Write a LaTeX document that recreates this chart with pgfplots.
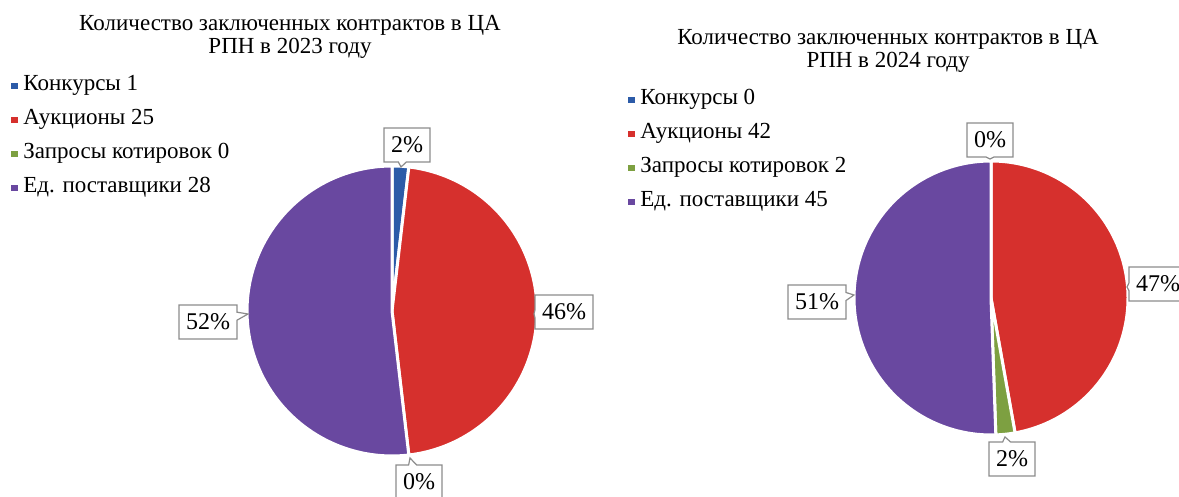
\documentclass[border=0pt]{standalone}
\usepackage{pgfplots}
\pgfplotsset{compat=1.18}
\usepackage{fontspec}
\setmainfont{Liberation Serif}
\usetikzlibrary{shapes.callouts}

\definecolor{cK}{RGB}{44,91,168}
\definecolor{cA}{RGB}{214,48,45}
\definecolor{cZ}{RGB}{125,160,65}
\definecolor{cE}{RGB}{105,72,160}

% data: 2023
\def\LK{1}\def\LA{25}\def\LZ{0}\def\LE{28}
% data: 2024
\def\RK{0}\def\RA{42}\def\RZ{2}\def\RE{45}

\pgfmathsetmacro\LT{\LK+\LA+\LZ+\LE}
\pgfmathsetmacro\LaK{90-360*\LK/\LT}
\pgfmathsetmacro\LaA{90-360*(\LK+\LA)/\LT}
\pgfmathsetmacro\LaZ{90-360*(\LK+\LA+\LZ)/\LT}
\pgfmathsetmacro\RT{\RK+\RA+\RZ+\RE}
\pgfmathsetmacro\RaK{90-360*\RK/\RT}
\pgfmathsetmacro\RaA{90-360*(\RK+\RA)/\RT}
\pgfmathsetmacro\RaZ{90-360*(\RK+\RA+\RZ)/\RT}

% slice: cx, cy, r, from angle (low), to angle (high), colour
\newcommand\slice[6]{%
  \pgfmathparse{abs(#5-(#4))>0.01 ? 1 : 0}%
  \ifdim\pgfmathresult pt>0.5pt
    \addplot[forget plot, fill=#6, draw=white, line width=1.5pt, line join=round,
      domain=#4:#5, samples=90, variable=\t]
      ({#1+#3*cos(\t)},{#2+#3*sin(\t)}) -- (axis cs:#1,#2) -- cycle;
  \fi
}

\tikzset{
  lab/.style={rectangle callout, draw=black!45, line width=0.6pt, fill=white,
    font=\fontsize{12}{12}\selectfont, inner xsep=3.5pt, inner ysep=3pt,
    minimum height=17pt, callout pointer width=4pt},
}
\pgfplotsset{
  piebase/.style={
    xmin=0, xmax=1179, ymin=0, ymax=497,
    width=589.5pt, height=248.5pt, scale only axis,
    hide axis, clip=false, at={(0pt,0pt)}, anchor=origin,
    legend image code/.code={\fill[##1,draw=none] (0pt,-2.2pt) rectangle (3.2pt,1.0pt);
      \path[draw=none,fill=none] (5pt,0pt) circle (0pt);},
    legend cell align=left,
    legend style={draw=none, fill=none, inner sep=0pt,
      font=\fontsize{11.5}{13}\selectfont, row sep=4.5pt,
      nodes={text height=8pt, text depth=2.5pt, inner sep=1pt}},
  },
}

\begin{document}
\begin{tikzpicture}
\useasboundingbox (0,0) rectangle (589.5pt,248.5pt);
% ---------- 2023 ----------
\begin{axis}[piebase, legend style={at={(axis cs:11,425)}, anchor=north west}]
  \slice{392}{186}{145}{\LaK}{90}{cK}
  \slice{392}{186}{145}{\LaA}{\LaK}{cA}
  \slice{392}{186}{145}{\LaZ}{\LaA}{cZ}
  \slice{392}{186}{145}{-270}{\LaZ}{cE}
  \addlegendimage{cK}\addlegendentry{Конкурсы 1}
  \addlegendimage{cA}\addlegendentry{Аукционы 25}
  \addlegendimage{cZ}\addlegendentry{Запросы котировок 0}
  \addlegendimage{cE}\addlegendentry{Ед. поставщики 28}
  \node[align=center, font=\fontsize{11.5}{11.5}\selectfont] at (axis cs:290,460)
    {Количество заключенных контрактов в ЦА\\РПН в 2023 году};
  \node[lab, callout absolute pointer={(axis cs:401,330)}] at (axis cs:407,352) {2\%};
  \node[lab, callout absolute pointer={(axis cs:534,183)}] at (axis cs:564,185) {46\%};
  \node[lab, callout absolute pointer={(axis cs:248,183)}] at (axis cs:208,175) {52\%};
  \node[lab, callout absolute pointer={(axis cs:410,39)}] at (axis cs:419,15) {0\%};
\end{axis}
% ---------- 2024 ----------
\begin{axis}[piebase, legend style={at={(axis cs:628,411)}, anchor=north west}]
  \slice{991}{199}{137}{\RaK}{90}{cK}
  \slice{991}{199}{137}{\RaA}{\RaK}{cA}
  \slice{991}{199}{137}{\RaZ}{\RaA}{cZ}
  \slice{991}{199}{137}{-270}{\RaZ}{cE}
  \addlegendimage{cK}\addlegendentry{Конкурсы 0}
  \addlegendimage{cA}\addlegendentry{Аукционы 42}
  \addlegendimage{cZ}\addlegendentry{Запросы котировок 2}
  \addlegendimage{cE}\addlegendentry{Ед. поставщики 45}
  \node[align=center, font=\fontsize{11.5}{11.5}\selectfont] at (axis cs:888,446.5)
    {Количество заключенных контрактов в ЦА\\РПН в 2024 году};
  \node[lab, callout absolute pointer={(axis cs:990,338)}] at (axis cs:990,357) {0\%};
  \node[lab, callout absolute pointer={(axis cs:1127,210)}] at (axis cs:1158,213) {47\%};
  \node[lab, callout absolute pointer={(axis cs:854,202)}] at (axis cs:817,195) {51\%};
  \node[lab, callout absolute pointer={(axis cs:1005,60)}] at (axis cs:1012,38) {2\%};
\end{axis}
\end{tikzpicture}
\end{document}
